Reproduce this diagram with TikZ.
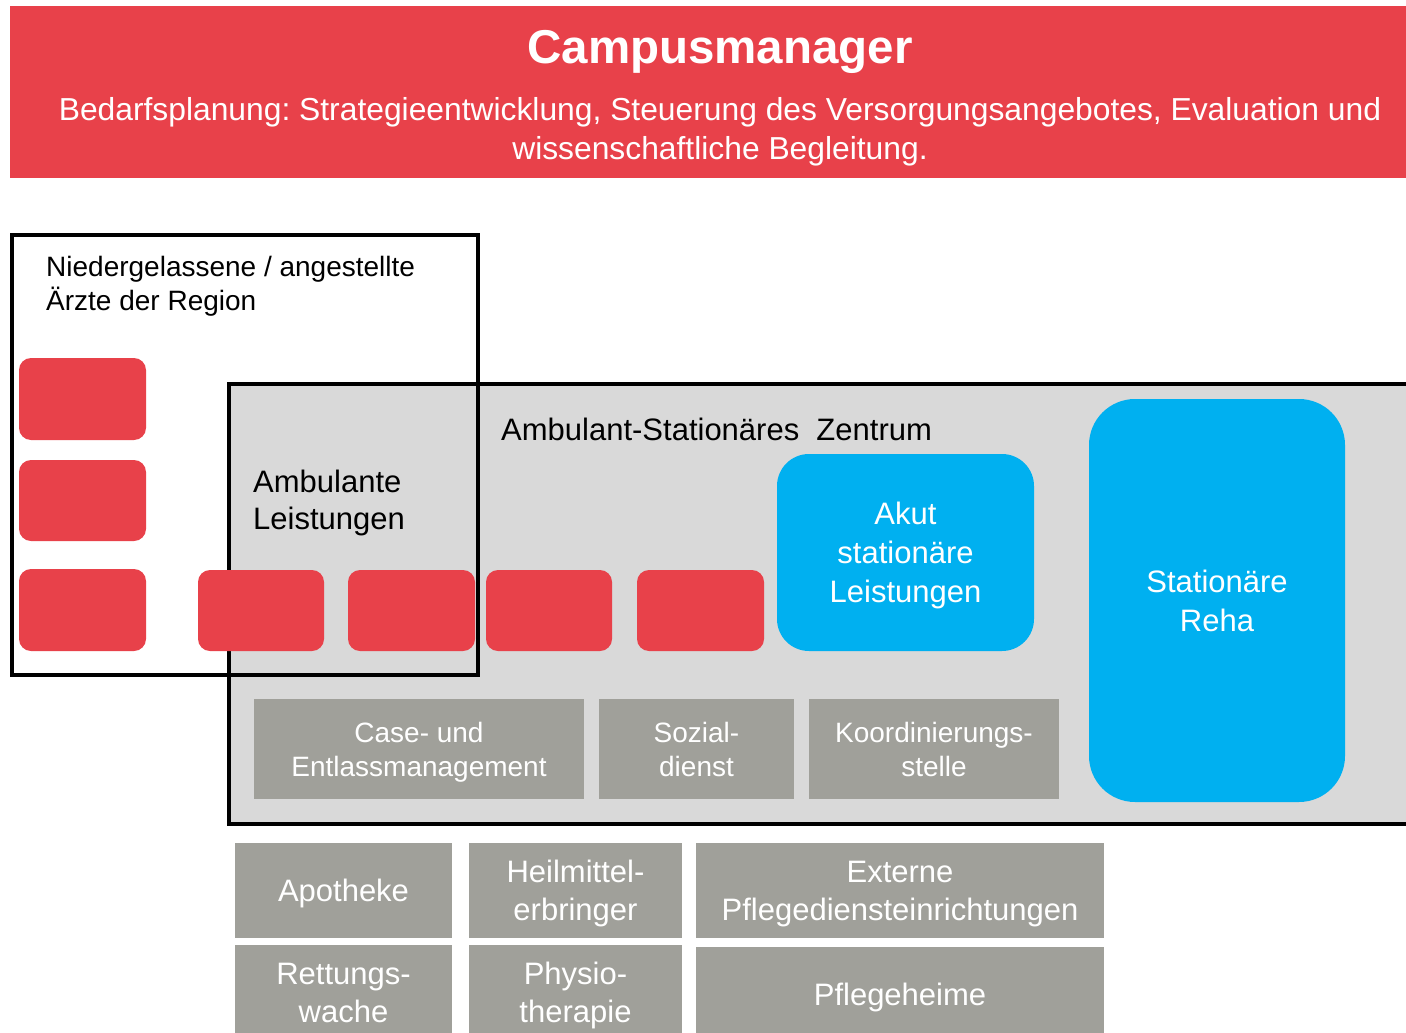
\documentclass[tikz,border=0pt]{standalone}
\usepackage{fontspec}
\setmainfont{Liberation Sans}
\frenchspacing
\definecolor{bannerred}{HTML}{E8414A}
\definecolor{aszblue}{HTML}{00B0F0}
\definecolor{boxgray}{HTML}{A0A09A}
\definecolor{bggray}{HTML}{D9D9D9}
\newcommand{\fsz}[2]{\fontsize{#1}{#2}\selectfont}
\tikzset{
  redbox/.style={fill=bannerred, rounded corners=12pt, inner sep=0pt},
  bluebox/.style={fill=aszblue, text=white, align=center, inner sep=0pt, text depth=0pt, font=\fsz{31}{39}},
  graybox/.style={fill=boxgray, text=white, align=center, inner sep=0pt, text depth=0pt},
  frame/.style={draw=black, line width=4pt},
  lbl/.style={inner sep=0pt, text=black}
}
\begin{document}
\begin{tikzpicture}[x=1pt, y=-1pt]
\useasboundingbox (0,0) rectangle (1406,1033);
\clip (0,0) rectangle (1406,1033);
% banner
\node[fill=bannerred, inner sep=0pt, minimum width=1396pt, minimum height=172pt] (banner) at (708,92) {};
\node[lbl, text=white, anchor=base, font=\bfseries\fsz{47.5}{57}] (title) at (720,64) {Campusmanager};
\node[lbl, text=white, anchor=north, align=center, font=\fsz{31.8}{39}] (sub) at (720,97)
  {Bedarfsplanung: Strategieentwicklung, Steuerung des Versorgungsangebotes, Evaluation und\\wissenschaftliche Begleitung.};
% ASZ background
\node[fill=bggray, draw=black, line width=4pt, inner sep=0pt, minimum width=1200pt, minimum height=440pt] (asz) at (829,604) {};
% Aerzte frame
\node[frame, inner sep=0pt, minimum width=466pt, minimum height=440pt] (aerzte) at (245,455) {};
\node[lbl, anchor=north west, align=left, font=\fsz{28}{34}] (aerztelbl) at (46,256)
  {Niedergelassene / angestellte\\Ärzte der Region};
\node[lbl, anchor=base west, font=\fsz{31}{37}] (aszlbl) at (501,440) {Ambulant-Stationäres\ \ Zentrum};
\node[lbl, anchor=north west, align=left, font=\fsz{31}{37}] (amblbl) at (253,470)
  {Ambulante\\Leistungen};
% red boxes
\node[redbox, minimum width=127pt, minimum height=82pt] (r1) at (82.5,399) {};
\node[redbox, minimum width=127pt, minimum height=81pt] (r2) at (82.5,500.5) {};
\node[redbox, minimum width=127pt, minimum height=82pt] (r3) at (82.5,610) {};
\node[redbox, minimum width=126pt, minimum height=81pt] (r4) at (261,610.5) {};
\node[redbox, minimum width=127pt, minimum height=81pt] (r5) at (411.5,610.5) {};
\node[redbox, minimum width=126pt, minimum height=81pt] (r6) at (549,610.5) {};
\node[redbox, minimum width=127pt, minimum height=81pt] (r7) at (700.5,610.5) {};
% blue boxes
\node[bluebox, rounded corners=32pt, minimum width=257pt, minimum height=197pt] (akut) at (905.5,552.5)
  {Akut\\stationäre\\Leistungen};
\node[bluebox, rounded corners=46pt, minimum width=256pt, minimum height=403pt] (reha) at (1217,600.5)
  {Stationäre\\Reha};
% gray service boxes inside
\node[graybox, font=\fsz{28}{34}, minimum width=330pt, minimum height=100pt] (case) at (419,749)
  {Case- und\\Entlassmanagement};
\node[graybox, font=\fsz{28}{34}, minimum width=195pt, minimum height=100pt] (sozial) at (696.5,749)
  {Sozial-\\dienst};
\node[graybox, font=\fsz{28}{34}, minimum width=250pt, minimum height=100pt] (koord) at (934,749)
  {Koordinierungs-\\stelle};
% bottom boxes
\node[graybox, font=\fsz{31}{38}, minimum width=217pt, minimum height=95pt] (apo) at (343.5,890.5) {Apotheke};
\node[graybox, font=\fsz{31}{38}, minimum width=213pt, minimum height=95pt] (heil) at (575.5,890.5) {Heilmittel-\\erbringer};
\node[graybox, font=\fsz{31}{38}, minimum width=408pt, minimum height=95pt] (ext) at (900,890.5) {Externe\\Pflegediensteinrichtungen};
\node[graybox, font=\fsz{31}{38}, minimum width=217pt, minimum height=95pt] (rett) at (343.5,992.5) {Rettungs-\\wache};
\node[graybox, font=\fsz{31}{38}, minimum width=213pt, minimum height=95pt] (phys) at (575.5,992.5) {Physio-\\therapie};
\node[graybox, font=\fsz{31}{38}, minimum width=408pt, minimum height=95pt] (pfl) at (900,994.5) {Pflegeheime};
\end{tikzpicture}
\end{document}
